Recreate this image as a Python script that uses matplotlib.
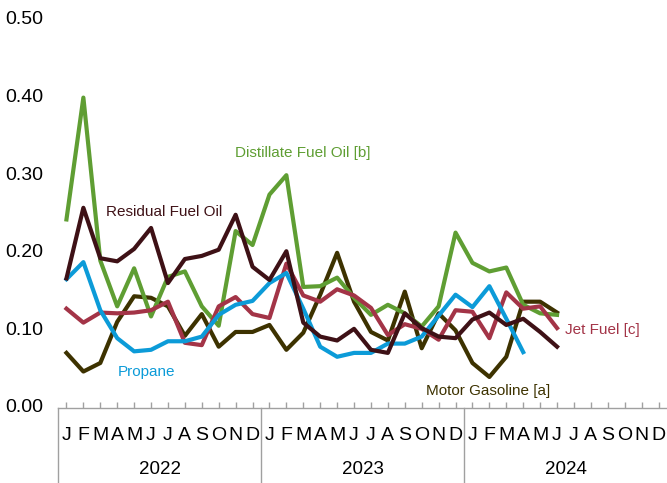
import matplotlib.pyplot as plt
import matplotlib.transforms as mtransforms
from matplotlib import font_manager

# monthly values, Jan 2022 onward
distillate = [0.243, 0.400, 0.190, 0.131, 0.180, 0.118, 0.169, 0.176, 0.131, 0.106, 0.228, 0.210,
              0.275, 0.300, 0.156, 0.157, 0.168, 0.142, 0.120, 0.133, 0.122, 0.105, 0.131, 0.226,
              0.187, 0.176, 0.181, 0.133, 0.122, 0.120]
residual = [0.167, 0.258, 0.193, 0.189, 0.205, 0.232, 0.161, 0.192, 0.196, 0.204, 0.249, 0.182,
            0.165, 0.202, 0.110, 0.092, 0.087, 0.102, 0.075, 0.071, 0.122, 0.103, 0.092, 0.090,
            0.114, 0.123, 0.107, 0.115, 0.098, 0.079]
jet_fuel = [0.128, 0.110, 0.123, 0.122, 0.123, 0.126, 0.137, 0.084, 0.081, 0.131, 0.143, 0.121,
            0.116, 0.186, 0.145, 0.137, 0.153, 0.145, 0.129, 0.094, 0.108, 0.102, 0.088, 0.126,
            0.124, 0.090, 0.149, 0.128, 0.131, 0.103]
propane = [0.166, 0.188, 0.126, 0.090, 0.073, 0.075, 0.086, 0.086, 0.092, 0.120, 0.133, 0.138,
           0.161, 0.174, 0.128, 0.079, 0.066, 0.071, 0.071, 0.083, 0.083, 0.092, 0.119, 0.146,
           0.130, 0.157, 0.115, 0.072]
gasoline = [0.071, 0.047, 0.058, 0.111, 0.144, 0.142, 0.131, 0.093, 0.121, 0.079, 0.098, 0.098,
            0.107, 0.075, 0.097, 0.146, 0.200, 0.137, 0.098, 0.087, 0.150, 0.077, 0.122, 0.100,
            0.058, 0.040, 0.066, 0.137, 0.137, 0.123]

month_letters = ['J', 'F', 'M', 'A', 'M', 'J', 'J', 'A', 'S', 'O', 'N', 'D']
years = ['2022', '2023', '2024']
y_ticks = [0.0, 0.1, 0.2, 0.3, 0.4, 0.5]

names = {f.name for f in font_manager.fontManager.ttflist}
narrow = 'Liberation Sans Narrow' in names
font = 'Liberation Sans Narrow' if narrow else 'Liberation Sans'
plt.rcParams['font.family'] = [font, 'DejaVu Sans']
lab_fs = 12.5 if narrow else 11

c_dist = '#5f9e33'
c_resid = '#3e1116'
c_jet = '#a33447'
c_prop = '#0c9bd8'
c_gas = '#3d3200'
c_axis = '#a0a0a0'

fig = plt.figure(figsize=(6.67, 4.83), dpi=100)
ax = fig.add_axes([58 / 667, 75 / 483, 609 / 667, 388 / 483])

ax.plot(range(len(gasoline)), gasoline, color=c_gas, lw=3)
ax.plot(range(len(distillate)), distillate, color=c_dist, lw=3)
ax.plot(range(len(jet_fuel)), jet_fuel, color=c_jet, lw=3)
ax.plot(range(len(propane)), propane, color=c_prop, lw=3)
ax.plot(range(len(residual)), residual, color=c_resid, lw=3)

ax.set_xlim(-0.5, 35.5)
ax.set_ylim(0, 0.5)

for s in ['left', 'top', 'right']:
    ax.spines[s].set_visible(False)
ax.spines['bottom'].set_color(c_axis)
ax.spines['bottom'].set_linewidth(1)

# y labels at the far left of the figure
ax.set_yticks([])
ytrans = mtransforms.blended_transform_factory(fig.transFigure, ax.transData)
for v in y_ticks:
    ax.text(5 / 667, v, f'{v:.2f}', transform=ytrans, ha='left', va='center', fontsize=14)

ax.set_xticks(range(36))
ax.set_xticklabels([])
ax.tick_params(axis='x', direction='in', length=4, color=c_axis, width=1)

# month letters, year labels and year dividers under the axis
trans = mtransforms.blended_transform_factory(ax.transData, fig.transFigure)
for i in range(36):
    ax.text(i, (483 - 436) / 483, month_letters[i % 12], transform=trans,
            ha='center', va='center', fontsize=14)
for k, yr in enumerate(years):
    ax.text(k * 12 + 5.5, (483 - 470) / 483, yr, transform=trans,
            ha='center', va='center', fontsize=13.5)
for xb in [-0.5, 11.5, 23.5]:
    ax.plot([xb, xb], [75 / 483, 0], transform=trans, color=c_axis, lw=1, clip_on=False)

# series labels
ax.text(9.96, 0.328, 'Distillate Fuel Oil [b]', color=c_dist, fontsize=lab_fs, ha='left', va='center')
ax.text(2.33, 0.252, 'Residual Fuel Oil', color=c_resid, fontsize=lab_fs, ha='left', va='center')
ax.text(3.04, 0.046, 'Propane', color=c_prop, fontsize=lab_fs, ha='left', va='center')
ax.text(29.46, 0.101, 'Jet Fuel [c]', color=c_jet, fontsize=lab_fs, ha='left', va='center')
ax.text(21.25, 0.022, 'Motor Gasoline [a]', color=c_gas, fontsize=lab_fs, ha='left', va='center')

fig.savefig('out.png', dpi=100)
